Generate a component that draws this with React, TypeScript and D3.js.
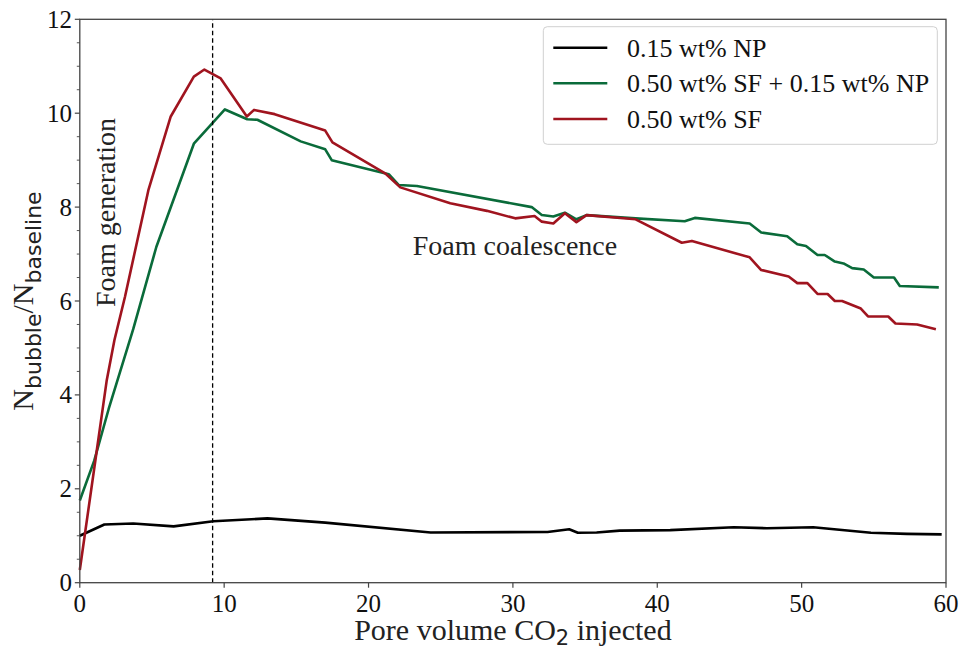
import React from "react";
import * as d3 from "d3";

const blackX = [0, 1.7, 3.7, 6.5, 9.25, 13, 17, 24.3, 32.4, 33.9, 34.5, 35.8, 37.4, 40.9, 45.3, 47.6, 50.8, 54.8, 57.3, 59.7];
const blackY = [1.0, 1.24, 1.26, 1.2, 1.31, 1.37, 1.28, 1.07, 1.08, 1.14, 1.065, 1.07, 1.11, 1.12, 1.18, 1.16, 1.18, 1.065, 1.04, 1.03];

const greenX = [0, 1.0, 2.0, 3.7, 5.3, 7.9, 10.05, 11.6, 12.3, 15.3, 17.0, 17.45, 21.4, 22.1, 23.35, 31.3, 32.0, 32.8, 33.6, 34.4, 35.1, 38.5, 41.9, 42.6, 46.4, 47.2, 49.0, 49.7, 50.3, 51.1, 51.6, 52.3, 52.9, 53.5, 54.3, 55.0, 56.4, 56.8, 59.5];
const greenY = [1.75, 2.6, 3.7, 5.4, 7.15, 9.35, 10.08, 9.87, 9.86, 9.4, 9.23, 9.0, 8.7, 8.47, 8.45, 8.0, 7.83, 7.8, 7.88, 7.74, 7.83, 7.76, 7.7, 7.77, 7.65, 7.46, 7.38, 7.21, 7.17, 6.98, 6.98, 6.84, 6.8, 6.7, 6.67, 6.5, 6.5, 6.32, 6.29];

const redX = [0, 1.1, 1.86, 2.4, 3.13, 4.75, 6.3, 7.9, 8.63, 9.76, 11.57, 12.07, 13.5, 17.0, 17.5, 21.15, 22.2, 25.66, 28.2, 30.16, 31.5, 32.0, 32.8, 33.6, 34.4, 35.1, 38.5, 41.7, 42.4, 46.4, 47.2, 49.1, 49.7, 50.4, 51.1, 51.8, 52.3, 52.8, 54.1, 54.6, 56.0, 56.5, 58.0, 59.3];
const redY = [0.27, 2.65, 4.3, 5.17, 6.09, 8.36, 9.93, 10.78, 10.93, 10.74, 9.93, 10.07, 9.98, 9.63, 9.38, 8.72, 8.42, 8.08, 7.92, 7.76, 7.81, 7.69, 7.65, 7.87, 7.68, 7.83, 7.74, 7.24, 7.28, 6.93, 6.66, 6.52, 6.38, 6.38, 6.15, 6.15, 6.0, 6.0, 5.84, 5.67, 5.67, 5.52, 5.5, 5.4];

const seriesNames = ["0.15 wt% NP", "0.50 wt% SF + 0.15 wt% NP", "0.50 wt% SF"];
const seriesColors = ["#000000", "#0a6b3a", "#a0141f"];
const xTicks = [0, 10, 20, 30, 40, 50, 60];
const yTicks = [0, 2, 4, 6, 8, 10, 12];
const dividerX = 9.2;

const W = 962, H = 647;
const L = 79.8, R = 946, T = 19.3, B = 582.7;
const serif = "'Liberation Serif', 'Times New Roman', serif";
const sans = "'DejaVu Sans', sans-serif";

export default function App() {
  const x = d3.scaleLinear().domain([0, 60]).range([L, R]);
  const y = d3.scaleLinear().domain([0, 12]).range([B, T]);
  const line = d3.line<[number, number]>().x(d => x(d[0])).y(d => y(d[1]));
  const series = [
    { xs: blackX, ys: blackY },
    { xs: greenX, ys: greenY },
    { xs: redX, ys: redY },
  ];
  const minor = d3.range(0, 12.01, 0.5).filter(v => Math.abs(v % 2) > 0.01);
  const axisColor = "#444";
  const legendRows = [47.7, 83.3, 119];
  return (
    <svg width={W} height={H} style={{ position: "absolute", left: 0, top: 0, background: "#fff" }}>
      <rect x={0} y={0} width={W} height={H} fill="#fff" />
      {series.map((s, i) => (
        <path key={i} d={line(s.xs.map((v, j) => [v, s.ys[j]]) as [number, number][]) || ""}
          fill="none" stroke={seriesColors[i]} strokeWidth={2.6} strokeLinejoin="round" />
      ))}
      <line x1={x(dividerX)} x2={x(dividerX)} y1={B} y2={T} stroke="#000" strokeWidth={1.3} strokeDasharray="4.5,3" />
      {/* frame */}
      <rect x={L} y={T} width={R - L} height={B - T} fill="none" stroke={axisColor} strokeWidth={1.3} />
      {xTicks.map(t => (
        <g key={"x" + t}>
          <line x1={x(t)} x2={x(t)} y1={B} y2={B + 5} stroke={axisColor} strokeWidth={1.2} />
          <text x={x(t)} y={612} textAnchor="middle" fontFamily={serif} fontSize={25} fill="#111">{t}</text>
        </g>
      ))}
      {yTicks.map(t => (
        <g key={"y" + t}>
          <line x1={L - 5} x2={L} y1={y(t)} y2={y(t)} stroke={axisColor} strokeWidth={1.2} />
          <text x={72} y={y(t) + 8.5} textAnchor="end" fontFamily={serif} fontSize={25} fill="#111">{t}</text>
        </g>
      ))}
      {minor.map(t => (
        <line key={"m" + t} x1={L - 3} x2={L} y1={y(t)} y2={y(t)} stroke={axisColor} strokeWidth={0.9} />
      ))}
      {/* annotations */}
      <text transform={`translate(114.5,212.5) rotate(-90)`} textAnchor="middle" fontFamily={serif} fontSize={28} fill="#222">Foam generation</text>
      <text x={515} y={255} textAnchor="middle" fontFamily={serif} fontSize={28} fill="#222">Foam coalescence</text>
      {/* axis labels */}
      <text x={(L + R) / 2} y={640} textAnchor="middle" fontFamily={serif} fontSize={30} fill="#222">
        Pore volume CO<tspan fontFamily={sans} fontSize={21} dy={5}>2</tspan><tspan dy={-5}> injected</tspan>
      </text>
      <text transform={`translate(33,${(T + B) / 2}) rotate(-90)`} textAnchor="middle" fontFamily={serif} fontSize={30} fill="#222">
        N<tspan fontFamily={sans} fontSize={22} dy={8}>bubble</tspan><tspan dy={-8}>/N</tspan><tspan fontFamily={sans} fontSize={22} dy={8}>baseline</tspan>
      </text>
      {/* legend */}
      <rect x={543.3} y={26.7} width={394} height={117.6} rx={4} fill="#fff" fillOpacity={0.8} stroke="#d0d0d0" strokeWidth={1} />
      {seriesNames.map((n, i) => (
        <g key={n}>
          <line x1={553.3} x2={607.3} y1={legendRows[i]} y2={legendRows[i]} stroke={seriesColors[i]} strokeWidth={2.6} />
          <text x={627} y={legendRows[i] + 9} fontFamily={serif} fontSize={26} fill="#111">{n}</text>
        </g>
      ))}
    </svg>
  );
}
